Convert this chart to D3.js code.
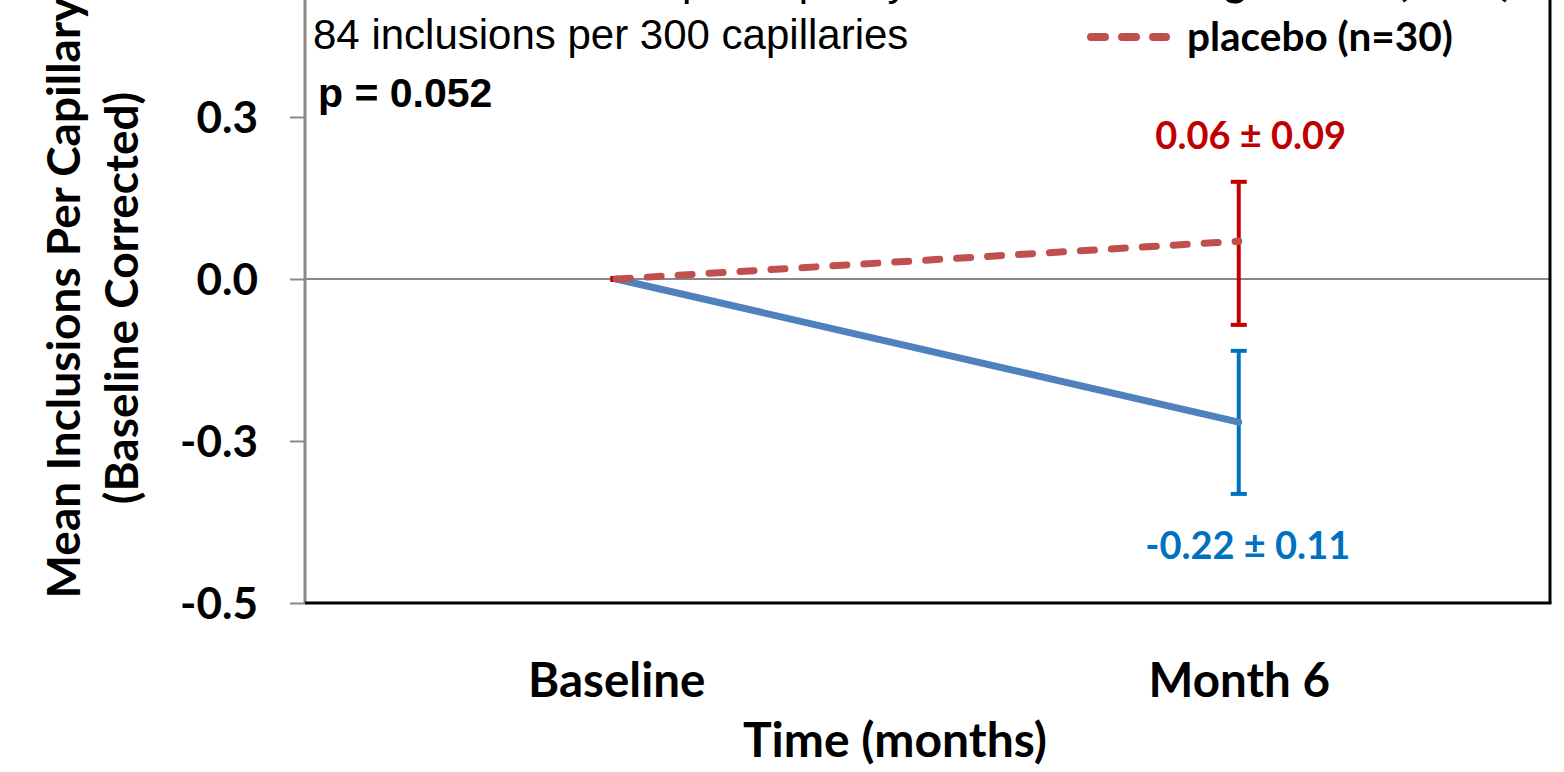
<!DOCTYPE html>
<html>
<head>
<meta charset="utf-8">
<script src="https://cdn.jsdelivr.net/npm/d3@7"></script>
<style>
  html, body { margin: 0; padding: 0; background: #fff; }
  svg { display: block; }
  .cal { font-family: Lato, "Open Sans", sans-serif; font-weight: 700; }
  .ari { font-family: "Liberation Sans", Arial, sans-serif; }
</style>
</head>
<body>
<script>
// ---- data ----
const categories = ["Baseline", "Month 6"];
const seriesNames = ["Mg treated (n=31)", "placebo (n=30)"];
const treatedValues = [0, -0.265];
const placeboValues = [0, 0.07];
const treatedErrLow = [0, -0.398];
const treatedErrHigh = [0, -0.133];
const placeboErrLow = [0, -0.085];
const placeboErrHigh = [0, 0.18];
const yTickValues = [0.3, 0, -0.3, -0.6];
const yTickLabels = ["0.3", "0.0", "-0.3", "-0.5"];
const valueLabels = ["-0.22 \u00b1 0.11", "0.06 \u00b1 0.09"];
const noteLines = ["Baseline: 0.28 inclusions per capillary", "84 inclusions per 300 capillaries"];
const pValueText = "p = 0.052";
const yTitle = ["Mean Inclusions Per Capillary", "(Baseline Corrected)"];
const xTitle = "Time (months)";

const W = 1564, H = 772;
const left = 305, right = 1550, bottom = 603;

const svg = d3.select("body").append("svg").attr("width", W).attr("height", H);

const x = d3.scalePoint().domain(categories).range([left, right]).padding(0.5);
const y = d3.scaleLinear().domain([-0.6, 0.6]).range([bottom, -45]);

const gray = "#898989";

// zero gridline
svg.append("line").attr("x1", left).attr("x2", right).attr("y1", y(0)).attr("y2", y(0))
  .attr("stroke", gray).attr("stroke-width", 2);

// y axis
const yAxis = d3.axisLeft(y).tickValues(yTickValues).tickFormat((d, i) => yTickLabels[i]).tickSize(15).tickPadding(32);
const gy = svg.append("g").attr("transform", `translate(${left},0)`).call(yAxis);
gy.select(".domain").remove();
gy.selectAll(".tick line").attr("stroke", gray).attr("stroke-width", 2);
gy.selectAll(".tick text").attr("class", "cal").attr("font-size", 44).attr("fill", "#000").attr("dy", "0.36em");
svg.append("line").attr("x1", left).attr("x2", left).attr("y1", bottom).attr("y2", y(0.6))
  .attr("stroke", gray).attr("stroke-width", 3);

// frame bottom and right (black)
svg.append("line").attr("x1", left).attr("x2", right + 1.5).attr("y1", bottom).attr("y2", bottom)
  .attr("stroke", "#000").attr("stroke-width", 3);
svg.append("line").attr("x1", right).attr("x2", right).attr("y1", bottom).attr("y2", y(0.6))
  .attr("stroke", "#000").attr("stroke-width", 3);

// x axis labels
const xAxis = d3.axisBottom(x).tickSize(0).tickPadding(0);
const gx = svg.append("g").attr("transform", `translate(0,${bottom})`).call(xAxis);
gx.select(".domain").remove();
gx.selectAll(".tick text").attr("class", "cal").attr("font-size", 47.5).attr("fill", "#000")
  .attr("dy", null).attr("y", 94);

// error bars
function errorBars(lo, hi, color) {
  const g = svg.append("g").attr("stroke", color).attr("stroke-width", 4);
  categories.forEach((c, i) => {
    if (lo[i] === hi[i]) return;
    g.append("line").attr("x1", x(c)).attr("x2", x(c)).attr("y1", y(lo[i])).attr("y2", y(hi[i]));
    g.append("line").attr("x1", x(c) - 8).attr("x2", x(c) + 8).attr("y1", y(lo[i])).attr("y2", y(lo[i]));
    g.append("line").attr("x1", x(c) - 8).attr("x2", x(c) + 8).attr("y1", y(hi[i])).attr("y2", y(hi[i]));
  });
}
errorBars(placeboErrLow, placeboErrHigh, "#C00000");
errorBars(treatedErrLow, treatedErrHigh, "#0070C0");

// baseline marker (zero-length placebo error bar)
svg.append("rect").attr("x", x(categories[0]) - 6).attr("y", y(placeboValues[0]) - 3)
  .attr("width", 7).attr("height", 6).attr("fill", "#C00000");

// lines
const line = d3.line().x((d, i) => x(categories[i])).y(d => y(d));
svg.append("path").datum(treatedValues).attr("d", line).attr("fill", "none")
  .attr("stroke", "#4F81BD").attr("stroke-width", 7).attr("stroke-linecap", "round");
svg.append("path").datum(placeboValues).attr("d", line).attr("fill", "none")
  .attr("stroke", "#C0504D").attr("stroke-width", 7).attr("stroke-linecap", "round")
  .attr("stroke-dasharray", "14,17");

// value labels
svg.append("text").attr("class", "cal").attr("font-size", 38).attr("fill", "#C00000")
  .attr("text-anchor", "middle").attr("x", x(categories[1]) + 12).attr("y", y(placeboErrHigh[1]) - 33)
  .text(valueLabels[1]);
svg.append("text").attr("class", "cal").attr("font-size", 38).attr("fill", "#0070C0")
  .attr("text-anchor", "middle").attr("x", x(categories[1]) + 9).attr("y", y(treatedErrLow[1]) + 65)
  .text(valueLabels[0]);

// notes
svg.append("text").attr("class", "ari").attr("font-size", 42).attr("fill", "#000")
  .attr("x", 208).attr("y", -5).text(noteLines[0]);
svg.append("text").attr("class", "ari").attr("font-size", 42).attr("fill", "#000")
  .attr("x", 313).attr("y", 49).text(noteLines[1]);
svg.append("text").attr("class", "ari").attr("font-size", 41).attr("font-weight", 700).attr("fill", "#000")
  .attr("x", 318).attr("y", 107).text(pValueText);

// legend
const legend = svg.append("g");
const legendY = [-18, 37];
const legendColors = ["#4F81BD", "#C0504D"];
const legendDash = [null, "14,17"];
seriesNames.forEach((name, i) => {
  legend.append("line").attr("x1", 1091).attr("x2", 1166).attr("y1", legendY[i]).attr("y2", legendY[i])
    .attr("stroke", legendColors[i]).attr("stroke-width", 8).attr("stroke-linecap", "round")
    .attr("stroke-dasharray", legendDash[i]);
  legend.append("text").attr("class", "cal").attr("font-size", 40.5).attr("fill", "#000")
    .attr("x", 1187).attr("y", legendY[i] + 14).text(name);
});

// axis titles
svg.append("text").attr("class", "cal").attr("font-size", 48).attr("fill", "#000")
  .attr("text-anchor", "middle").attr("x", 895).attr("y", 757).text(xTitle);
yTitle.forEach((t, i) => {
  svg.append("text").attr("class", "cal").attr("font-size", 46).attr("fill", "#000")
    .attr("text-anchor", "middle")
    .attr("transform", `translate(${[80, 138][i]},298) rotate(-90)`).text(t);
});
</script>
</body>
</html>
